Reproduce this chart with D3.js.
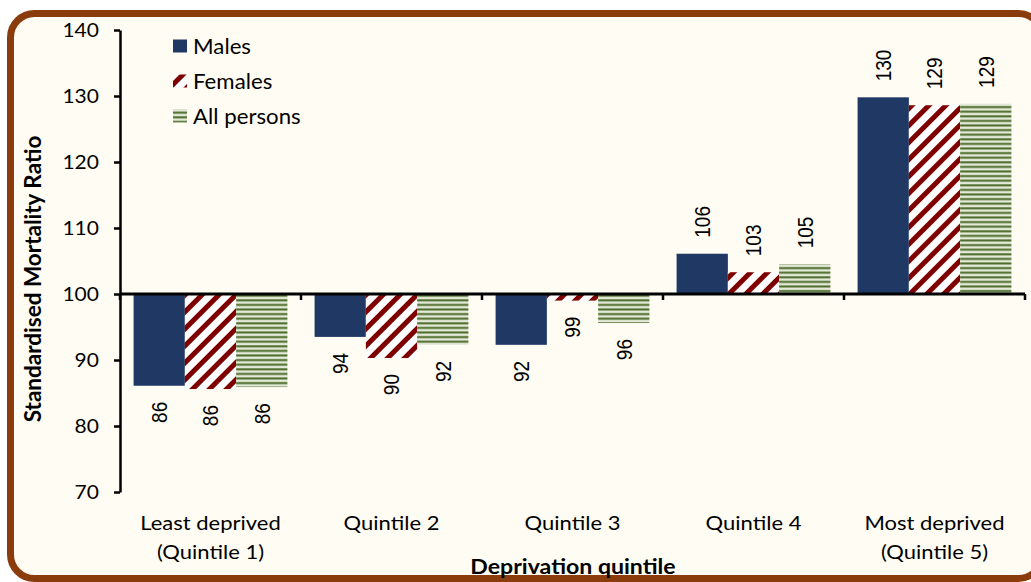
<!DOCTYPE html>
<html lang="en">
<head>
    <meta charset="utf-8">
    <title>SMR by deprivation quintile</title>
    <script src="https://cdnjs.cloudflare.com/ajax/libs/d3/7.8.5/d3.min.js"></script>
    <style>
        body { margin: 0; background: #ffffff; }
        text { font-family: Lato, "Open Sans", sans-serif; fill: #000; }
    </style>
</head>
<body>
<div id="chart"></div>
<script>
    // data
    var quintiles = ["Q1", "Q2", "Q3", "Q4", "Q5"];
    var quintileLabels = [
        ["Least deprived", "(Quintile 1)"],
        ["Quintile 2"],
        ["Quintile 3"],
        ["Quintile 4"],
        ["Most deprived", "(Quintile 5)"]
    ];
    var series = ["Males", "Females", "All persons"];
    var males = [86.1, 93.5, 92.3, 106.1, 129.8];
    var females = [85.6, 90.3, 99.0, 103.3, 128.6];
    var allPersons = [85.9, 92.3, 95.6, 104.5, 128.8];
    var yTicks = [70, 80, 90, 100, 110, 120, 130, 140];

    var values = [males, females, allPersons];
    var width = 1031, height = 582;
    var sx = 1.1; // the original text is a bit wider than Lato

    var svg = d3.select("#chart")
        .append("svg")
        .attr("width", width)
        .attr("height", height);

    // patterns for the females / all persons bars
    var defs = svg.append("defs");
    var diag = defs.append("pattern")
        .attr("id", "diag")
        .attr("patternUnits", "userSpaceOnUse")
        .attr("width", 12)
        .attr("height", 12)
        .attr("patternTransform", "rotate(45)");
    diag.append("rect").attr("width", 12).attr("height", 12).attr("fill", "#ffffff");
    diag.append("rect").attr("width", 5).attr("height", 12).attr("fill", "#7f0000");

    var horiz = defs.append("pattern")
        .attr("id", "horiz")
        .attr("patternUnits", "userSpaceOnUse")
        .attr("width", 8)
        .attr("height", 4.6);
    horiz.append("rect").attr("width", 8).attr("height", 4.6).attr("fill", "#e4ead9");
    horiz.append("rect").attr("y", 0.3).attr("width", 8).attr("height", 2).attr("fill", "#4a6a28");

    var fills = ["#1f3864", "url(#diag)", "url(#horiz)"];

    // frame
    svg.append("rect")
        .attr("x", 10.5)
        .attr("y", 13.5)
        .attr("width", 1032)
        .attr("height", 565)
        .attr("rx", 24)
        .attr("fill", "#fffcf3")
        .attr("stroke", "#8a3c0d")
        .attr("stroke-width", 7);

    var x0 = d3.scaleBand()
        .domain(quintiles)
        .range([120, 1025]);

    var x1 = d3.scaleBand()
        .domain(series)
        .range([0, x0.bandwidth()])
        .paddingOuter(0.265);

    var y = d3.scaleLinear()
        .domain([70, 140])
        .range([492, 30]);

    // bars, drawn from the 100 baseline
    var groups = svg.selectAll(".grp")
        .data(quintiles)
        .enter()
        .append("g")
        .attr("class", "grp")
        .attr("transform", function(d) { return "translate(" + x0(d) + ",0)"; });

    var bars = groups.selectAll("rect")
        .data(function(d, i) {
            return series.map(function(s, j) { return {s: s, j: j, v: values[j][i]}; });
        })
        .enter();

    bars.append("rect")
        .attr("x", function(d) { return x1(d.s); })
        .attr("width", x1.bandwidth())
        .attr("y", function(d) { return Math.min(y(d.v), y(100)); })
        .attr("height", function(d) { return Math.abs(y(d.v) - y(100)); })
        .attr("fill", function(d) { return fills[d.j]; });

    // value labels, rotated (and a little thicker, like the original)
    bars.append("text")
        .attr("transform", function(d) {
            var cx = x1(d.s) + x1.bandwidth() / 2;
            var cy = d.v >= 100 ? y(d.v) - 16 : y(d.v) + 16;
            return "translate(" + cx + "," + cy + ") rotate(-90) scale(1,1.15)";
        })
        .attr("text-anchor", function(d) { return d.v >= 100 ? "start" : "end"; })
        .attr("dy", "0.36em")
        .style("font-family", "'Liberation Sans', Arial, sans-serif")
        .style("font-size", "19px")
        .text(function(d) { return Math.round(d.v); });

    // y axis
    var yAxis = svg.append("g")
        .attr("transform", "translate(120,0)")
        .call(d3.axisLeft(y).tickValues(yTicks).tickSize(6).tickPadding(14).tickSizeOuter(0));
    yAxis.select(".domain").attr("stroke", "#000").attr("stroke-width", 2.5);
    yAxis.selectAll(".tick line").attr("stroke", "#000").attr("stroke-width", 2.5);
    yAxis.selectAll(".tick text")
        .style("font-family", "Lato, sans-serif")
        .style("font-size", "20px")
        .attr("transform", "translate(-20,0) scale(1.05,1) translate(19,0)");

    // x axis at the 100 line
    var xEdges = quintiles.map(function(q) { return x0(q); }).concat([x0.range()[1]]);
    var xAxis = svg.append("g");
    xAxis.append("line")
        .attr("x1", x0.range()[0])
        .attr("x2", x0.range()[1])
        .attr("y1", y(100))
        .attr("y2", y(100))
        .attr("stroke", "#000")
        .attr("stroke-width", 2.8);
    xAxis.selectAll(".xt")
        .data(xEdges)
        .enter()
        .append("line")
        .attr("x1", function(d) { return d; })
        .attr("x2", function(d) { return d; })
        .attr("y1", y(100))
        .attr("y2", y(100) + 6)
        .attr("stroke", "#000")
        .attr("stroke-width", 2.5);

    // category labels below the plot
    svg.selectAll(".cat")
        .data(quintiles)
        .enter()
        .append("g")
        .attr("class", "cat")
        .attr("transform", function(d) {
            return "translate(" + (x0(d) + x0.bandwidth() / 2) + ",530) scale(" + sx + ",1)";
        })
        .append("text")
        .attr("text-anchor", "middle")
        .style("font-size", "20px")
        .each(function(d, i) {
            var t = d3.select(this);
            quintileLabels[i].forEach(function(line, k) {
                t.append("tspan")
                    .attr("x", 0)
                    .attr("dy", k === 0 ? 0 : 29)
                    .text(line);
            });
        });

    // axis titles
    svg.append("text")
        .attr("transform", "translate(33,279) rotate(-90)")
        .attr("text-anchor", "middle")
        .attr("dy", "0.35em")
        .style("font-size", "22.5px")
        .style("font-weight", "bold")
        .text("Standardised Mortality Ratio");

    svg.append("text")
        .attr("transform", "translate(573,574) scale(" + sx + ",1)")
        .attr("text-anchor", "middle")
        .style("font-size", "21px")
        .style("font-weight", "bold")
        .text("Deprivation quintile");

    // legend
    var legend = svg.selectAll(".leg")
        .data(series)
        .enter()
        .append("g")
        .attr("class", "leg")
        .attr("transform", function(d, i) { return "translate(173," + (46 + i * 35) + ")"; });
    legend.append("rect")
        .attr("y", -6.5)
        .attr("width", 14)
        .attr("height", 13)
        .attr("fill", function(d, i) { return fills[i]; });
    legend.append("text")
        .attr("transform", "translate(20,0) scale(1.06,1)")
        .attr("dy", "0.36em")
        .style("font-size", "21px")
        .text(function(d) { return d; });
</script>
</body>
</html>
